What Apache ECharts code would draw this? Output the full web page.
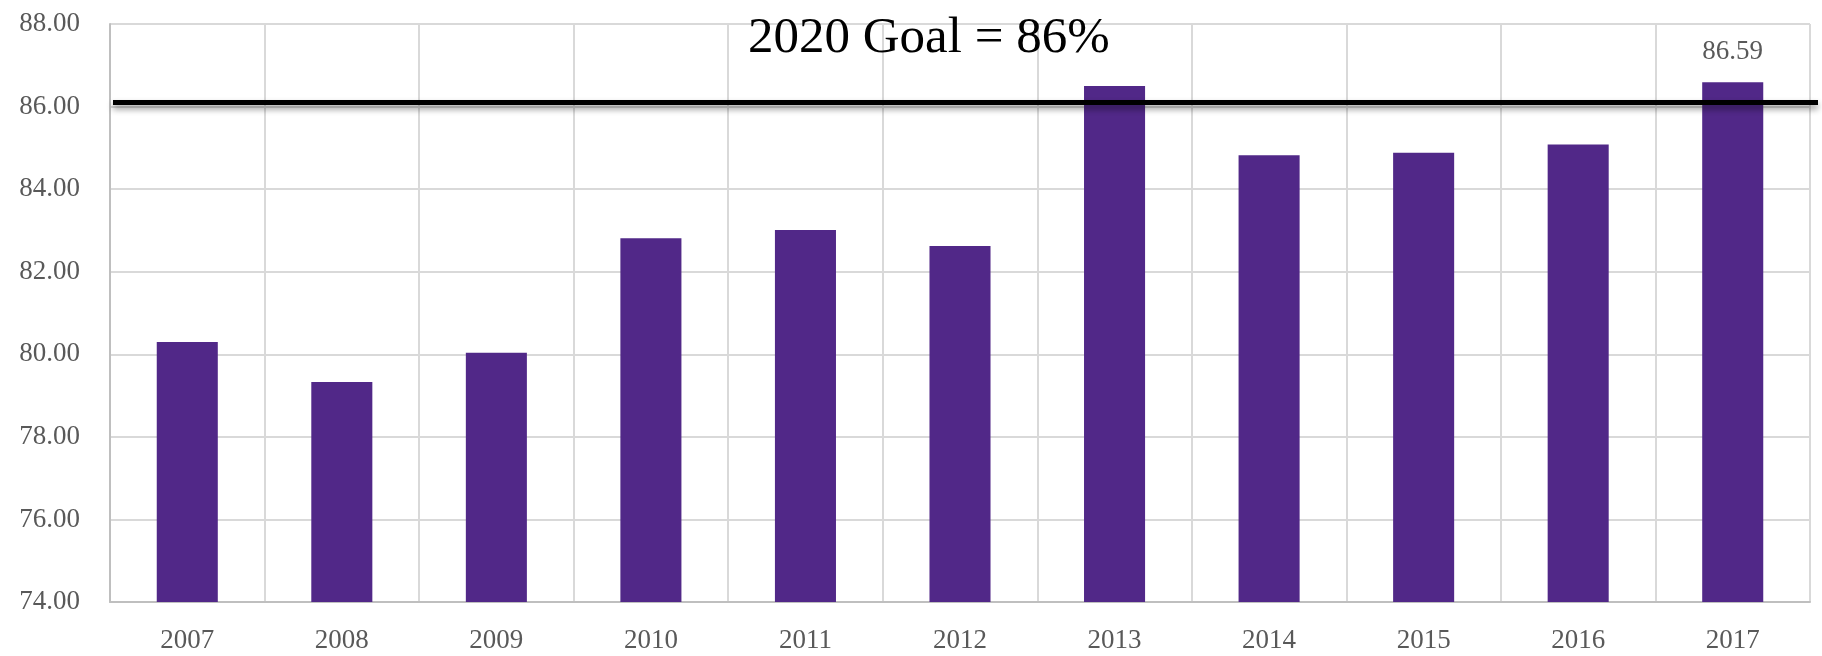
<!DOCTYPE html>
<html>
<head>
<meta charset="utf-8">
<title>2020 Goal</title>
<script src="https://cdn.jsdelivr.net/npm/echarts@6/dist/echarts.min.js"></script>
<style>
    html, body { margin: 0; padding: 0; background: #fff; }
    #main { width: 1822px; height: 656px; }
</style>
</head>
<body>
<div id="main"></div>
<script>
var years = ['2007', '2008', '2009', '2010', '2011', '2012', '2013', '2014', '2015', '2016', '2017'];
var rates = [80.30, 79.33, 80.04, 82.81, 83.01, 82.62, 86.50, 84.82, 84.88, 85.08, 86.59];
var goal = 86.1;
var goalText = '2020 Goal = 86%';

var serif = '"Liberation Serif", "DejaVu Serif", serif';

var myChart = echarts.init(document.getElementById('main'));

// only the last bar carries a value label
var barData = rates.map(function (v, i) {
    if (i === rates.length - 1) {
        return {
            value: v,
            label: {
                show: true,
                position: 'top',
                distance: 17,
                formatter: function (p) { return p.value.toFixed(2); },
                fontFamily: serif,
                fontSize: 27,
                color: '#595959'
            }
        };
    }
    return v;
});

var option = {
    backgroundColor: '#ffffff',
    animation: false,
    title: {
        text: goalText,
        left: 743,
        top: 8,
        textStyle: {
            fontFamily: serif,
            fontSize: 51,
            fontWeight: 'normal',
            color: '#000'
        }
    },
    grid: {
        left: 110,
        right: 12,
        top: 24,
        bottom: 54
    },
    xAxis: {
        type: 'category',
        data: years,
        axisLine: { lineStyle: { color: '#bfbfbf', width: 2 } },
        axisTick: { show: false },
        splitLine: { show: true, lineStyle: { color: '#d9d9d9', width: 2 } },
        axisLabel: {
            margin: 25,
            fontFamily: serif,
            fontSize: 27,
            color: '#595959'
        }
    },
    yAxis: {
        type: 'value',
        min: 74,
        max: 88,
        interval: 2,
        axisLine: { show: true, lineStyle: { color: '#bfbfbf', width: 2 } },
        axisTick: { show: false },
        splitLine: { lineStyle: { color: '#d9d9d9', width: 2 } },
        axisLabel: {
            margin: 30,
            fontFamily: serif,
            fontSize: 27,
            color: '#595959',
            formatter: function (v) { return v.toFixed(2); }
        }
    },
    series: [
        {
            type: 'bar',
            data: barData,
            barWidth: '39.5%',
            itemStyle: { color: '#512888' },
            markLine: {
                silent: true,
                symbol: 'none',
                label: { show: false },
                lineStyle: {
                    color: '#000',
                    type: 'solid',
                    width: 5,
                    shadowColor: 'rgba(0, 0, 0, 0.45)',
                    shadowBlur: 6,
                    shadowOffsetY: 4
                },
                data: [
                    [
                        { xAxis: years[0], yAxis: goal, x: 113 },
                        { xAxis: years[years.length - 1], yAxis: goal, x: 1818 }
                    ]
                ]
            }
        }
    ]
};

myChart.setOption(option);
</script>
</body>
</html>
